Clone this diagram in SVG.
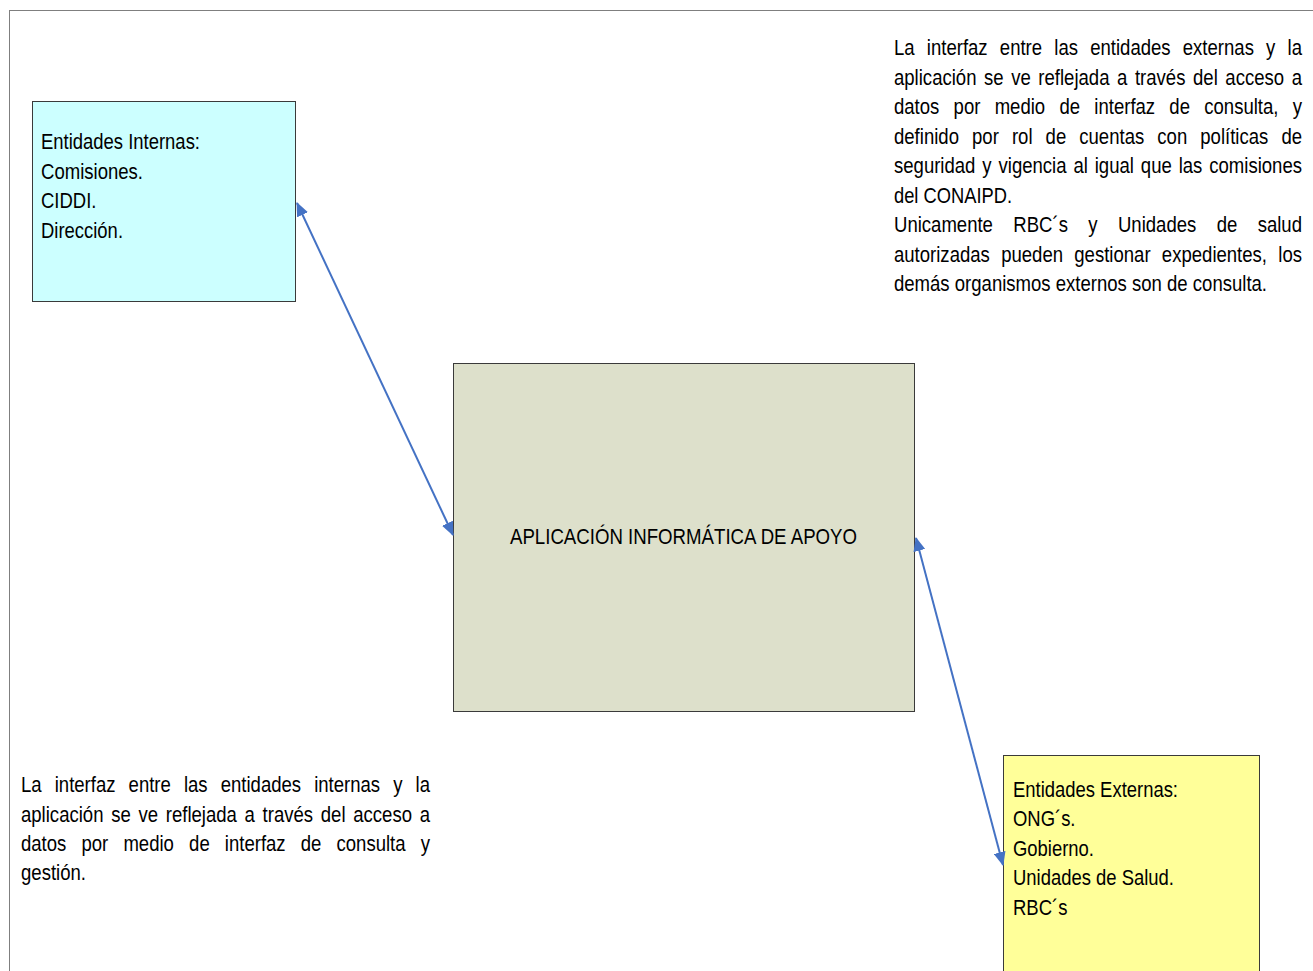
<svg xmlns="http://www.w3.org/2000/svg" width="1313" height="971" viewBox="0 0 1313 971">
<defs>
<style>
.t{font-family:"Liberation Sans",Arial,sans-serif;font-size:22.5px;fill:#000}
.box{stroke:#3a3a3a;stroke-width:1}
.conn{stroke:#4472C4;stroke-width:2;fill:none}
</style>
<marker id="ah" viewBox="0 0 14 12" refX="13" refY="6" markerWidth="14" markerHeight="12" markerUnits="userSpaceOnUse" orient="auto-start-reverse">
<path d="M0,0 L14,6 L0,12 Z" fill="#4472C4"/>
</marker>
</defs>
<rect width="1313" height="971" fill="#fff"/>
<rect x="9.5" y="10.5" width="1400" height="1000" fill="none" stroke="#7f7f7f" stroke-width="1"/>

<g id="internas">
<rect class="box" x="32.5" y="101.5" width="263" height="200" fill="#CCFFFF"/>
<text class="t" x="41" y="149" textLength="159" lengthAdjust="spacingAndGlyphs">Entidades Internas:</text>
<text class="t" x="41" y="179" textLength="102" lengthAdjust="spacingAndGlyphs">Comisiones.</text>
<text class="t" x="41" y="208" textLength="55.5" lengthAdjust="spacingAndGlyphs">CIDDI.</text>
<text class="t" x="41" y="238" textLength="82" lengthAdjust="spacingAndGlyphs">Dirección.</text>
</g>

<g id="aplicacion">
<rect class="box" x="453.5" y="363.5" width="461" height="348" fill="#DDE0CB"/>
<text class="t" x="683.5" y="544" text-anchor="middle" textLength="347" lengthAdjust="spacingAndGlyphs">APLICACIÓN INFORMÁTICA DE APOYO</text>
</g>

<g id="externas">
<rect class="box" x="1003.5" y="755.5" width="256" height="300" fill="#FFFF99"/>
<text class="t" x="1013" y="797" textLength="165" lengthAdjust="spacingAndGlyphs">Entidades Externas:</text>
<text class="t" x="1013" y="826" textLength="62.5" lengthAdjust="spacingAndGlyphs">ONG´s.</text>
<text class="t" x="1013" y="856" textLength="81" lengthAdjust="spacingAndGlyphs">Gobierno.</text>
<text class="t" x="1013" y="885" textLength="161" lengthAdjust="spacingAndGlyphs">Unidades de Salud.</text>
<text class="t" x="1013" y="915" textLength="54.5" lengthAdjust="spacingAndGlyphs">RBC´s</text>
</g>

<g id="nota-externas">
<text class="t" x="894" y="55" textLength="408" lengthAdjust="spacingAndGlyphs" word-spacing="8.55">La interfaz entre las entidades externas y la</text>
<text class="t" x="894" y="85" textLength="408" lengthAdjust="spacingAndGlyphs" word-spacing="2.96">aplicación se ve reflejada a través del acceso a</text>
<text class="t" x="894" y="114" textLength="408" lengthAdjust="spacingAndGlyphs" word-spacing="11.06">datos por medio de interfaz de consulta, y</text>
<text class="t" x="894" y="144" textLength="408" lengthAdjust="spacingAndGlyphs" word-spacing="9.63">definido por rol de cuentas con políticas de</text>
<text class="t" x="894" y="173" textLength="408" lengthAdjust="spacingAndGlyphs" word-spacing="2.13">seguridad y vigencia al igual que las comisiones</text>
<text class="t" x="894" y="203" textLength="118" lengthAdjust="spacingAndGlyphs">del CONAIPD.</text>
<text class="t" x="894" y="232" textLength="408" lengthAdjust="spacingAndGlyphs" word-spacing="18.49">Unicamente RBC´s y Unidades de salud</text>
<text class="t" x="894" y="262" textLength="408" lengthAdjust="spacingAndGlyphs" word-spacing="7.46">autorizadas pueden gestionar expedientes, los</text>
<text class="t" x="894" y="291" textLength="373" lengthAdjust="spacingAndGlyphs">demás organismos externos son de consulta.</text>
</g>

<g id="nota-internas">
<text class="t" x="21" y="792" textLength="409" lengthAdjust="spacingAndGlyphs" word-spacing="9.62">La interfaz entre las entidades internas y la</text>
<text class="t" x="21" y="822" textLength="409" lengthAdjust="spacingAndGlyphs" word-spacing="3.11">aplicación se ve reflejada a través del acceso a</text>
<text class="t" x="21" y="851" textLength="409" lengthAdjust="spacingAndGlyphs" word-spacing="12.14">datos por medio de interfaz de consulta y</text>
<text class="t" x="21" y="880" textLength="65" lengthAdjust="spacingAndGlyphs">gestión.</text>
</g>

<g id="connectors">
<line class="conn" x1="297" y1="203" x2="453" y2="535" marker-start="url(#ah)" marker-end="url(#ah)"/>
<line class="conn" x1="916" y1="538" x2="1003" y2="865" marker-start="url(#ah)" marker-end="url(#ah)"/>
</g>
</svg>
